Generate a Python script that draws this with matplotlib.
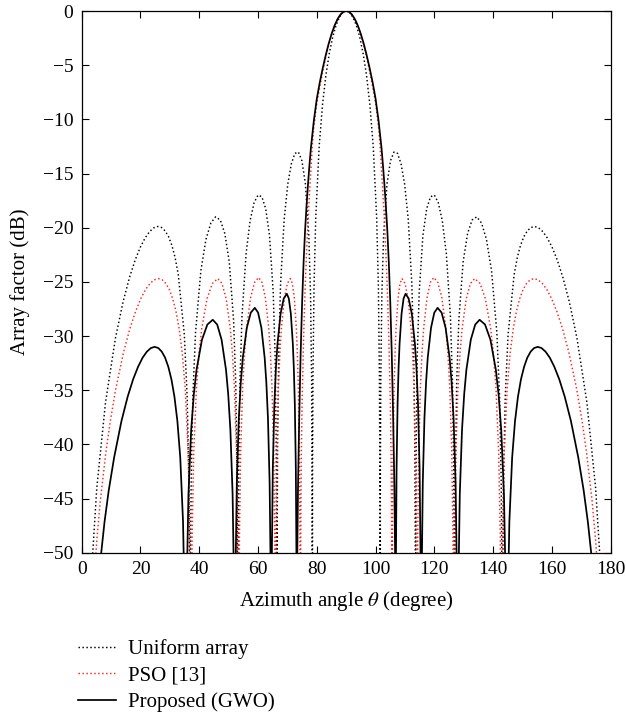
import matplotlib
matplotlib.use("Agg")
import matplotlib.pyplot as plt
from matplotlib.lines import Line2D

# ---------------- data ----------------
x_ticks = [0, 20, 40, 60, 80, 100, 120, 140, 160, 180]
y_ticks = [0, -5, -10, -15, -20, -25, -30, -35, -40, -45, -50]
series_labels = ["Uniform array", "PSO [13]", "Proposed (GWO)"]

theta_uniform = [
    0.000, 3.032, 5.127, 8.110, 11.478, 14.07, 16.260, 18.19, 19.948, 21.57, 23.074, 24.49,
    25.842, 27.13, 28.358, 29.54, 30.683, 31.79, 32.860,
    34.916, 35.904, 36.481, 36.734, 36.870, 36.997, 37.246, 37.812, 38.739, 40.536, 42.268, 43.945,
    45.573, 47.156, 48.700, 50.208, 51.683, 52.412, 52.843, 53.030, 53.130, 53.230, 53.416, 53.843,
    54.549, 55.944, 57.315, 58.667, 60.000, 61.315, 62.613, 63.896, 65.165, 65.795, 66.171, 66.334,
    66.422, 66.509, 66.671, 67.046, 67.667, 68.900, 70.123, 71.337, 72.542, 73.740, 74.930, 76.113,
    77.290, 77.878, 78.229, 78.381, 78.463, 78.545, 78.697, 79.048, 79.630, 80.793, 81.952, 83.108,
    84.261, 85.411, 86.560, 87.708, 88.854, 90.000,
    91.146, 92.292, 93.440, 94.589, 95.739, 96.892, 98.048, 99.207, 100.370, 100.952, 101.303,
    101.455, 101.537, 101.619, 101.771, 102.122, 102.710, 103.887, 105.070, 106.260, 107.458,
    108.663, 109.877, 111.100, 112.333, 112.954, 113.329, 113.491, 113.578, 113.666, 113.829,
    114.205, 114.835, 116.104, 117.387, 118.685, 120.000, 121.333, 122.685, 124.056, 125.451,
    126.157, 126.584, 126.770, 126.870, 126.970, 127.157, 127.588, 128.317, 129.792, 131.300,
    132.844, 134.427, 136.055, 137.732, 139.464, 141.261, 142.188, 142.754, 143.003, 143.130,
    143.266, 143.519, 144.096, 145.084, 147.140, 148.21, 149.317, 150.46, 151.642, 152.87,
    154.158, 155.51, 156.926, 158.43, 160.052, 161.81, 163.740, 165.93,
    168.522, 171.890, 174.873, 176.968, 180.000,
]
af_uniform = [
    -100, -53.15, -44.04, -36.11, -30.20, -26.85, -24.60, -22.98, -21.80, -20.95, -20.37, -20.02,
    -19.89, -19.98, -20.29, -20.82, -21.63, -22.77, -24.34,
    -29.85, -35.72, -43.62, -52.72, -100, -52.71, -43.59, -35.63, -29.67, -23.99, -21.09, -19.57,
    -19.00, -19.29, -20.54, -23.15, -28.55, -34.36, -42.24, -51.32, -100, -51.30, -42.16, -34.17,
    -28.15, -22.36, -19.34, -17.69, -16.99, -17.15, -18.25, -20.71, -25.95, -31.68, -39.50, -48.56,
    -100, -48.51, -39.35, -31.30, -25.20, -19.20, -15.98, -14.10, -13.14, -13.02, -13.82, -15.94,
    -20.80, -26.31, -34.00, -43.01, -100, -42.89, -33.67, -25.47, -19.11, -12.53, -8.62, -5.89,
    -3.89, -2.40, -1.31, -0.58, -0.14, 0.00,
    -0.14, -0.58, -1.31, -2.40, -3.89, -5.89, -8.62, -12.53, -19.11, -25.47, -33.67,
    -42.89, -100, -43.01, -34.00, -26.31, -20.80, -15.94, -13.82, -13.02, -13.14,
    -14.10, -15.98, -19.20, -25.20, -31.30, -39.35, -48.51, -100, -48.56, -39.50,
    -31.68, -25.95, -20.71, -18.25, -17.15, -16.99, -17.69, -19.34, -22.36, -28.15,
    -34.17, -42.16, -51.30, -100, -51.32, -42.24, -34.36, -28.55, -23.15, -20.54,
    -19.29, -19.00, -19.57, -21.09, -23.99, -29.67, -35.63, -43.59, -52.71, -100,
    -52.72, -43.62, -35.72, -29.85, -24.34, -22.77, -21.63, -20.82, -20.29, -19.98,
    -19.89, -20.02, -20.37, -20.95, -21.80, -22.98, -24.60, -26.85,
    -30.20, -36.11, -44.04, -53.15, -100,
]

theta_pso = [
    0.00, 3.65, 5.17, 6.33, 8.18, 9.69, 11.57, 14.19, 16.40, 18.36, 20.12, 21.75, 23.28, 24.72,
    26.07, 27.37, 28.61, 29.81, 30.95, 32.07, 33.15, 34.21, 35.23, 36.23, 36.81, 37.20,
    37.56, 38.11, 39.02, 39.93, 40.84, 42.66, 44.48, 46.30, 47.72, 49.14, 50.56, 51.27, 51.98,
    52.69, 53.12, 53.40,
    53.67, 54.08, 54.76, 55.44, 56.12, 57.48, 58.84, 60.20, 61.34, 62.48, 63.62, 64.19, 64.76,
    65.33, 65.67, 65.90,
    66.10, 66.41, 66.92, 67.43, 67.94, 68.96, 69.98, 71.00, 71.68, 72.36, 73.04, 73.38, 73.72,
    74.06, 74.26, 74.40,
    74.50, 74.70, 75.00, 75.50, 76.00, 76.50, 77.00, 77.50, 78.00, 78.50, 79.00, 80.00, 81.00,
    82.00, 83.00, 84.00, 85.00, 86.00, 87.00, 88.00, 89.00, 90.00,
    91.00, 92.00, 93.00, 94.00, 95.00, 96.00, 97.00, 98.00, 99.00, 100.00, 101.00, 101.50,
    102.00, 102.50, 103.00, 103.50, 104.00, 104.50, 105.00, 105.30, 105.50, 105.60,
    105.74, 105.94, 106.28, 106.62, 106.96, 107.64, 108.32, 109.00, 110.02, 111.04, 112.06,
    112.57, 113.08, 113.59, 113.90, 114.10,
    114.33, 114.67, 115.24, 115.81, 116.38, 117.52, 118.66, 119.80, 121.16, 122.52, 123.88,
    124.56, 125.24, 125.92, 126.33, 126.60,
    126.88, 127.31, 128.02, 128.73, 129.44, 130.86, 132.28, 133.70, 135.52, 137.34, 139.16,
    140.07, 140.98, 141.89, 142.44, 142.80,
    143.19, 143.77, 144.77, 145.79, 146.85, 147.93, 149.05, 150.19, 151.39, 152.63, 153.93,
    155.28, 156.72, 158.25, 159.88, 161.64, 163.60, 165.81, 168.43, 170.31, 171.82, 173.67,
    174.83, 176.35, 180.00,
]
af_pso = [
    -100, -54.76, -48.74, -45.23, -40.83, -37.93, -34.90, -31.56, -29.31, -27.71, -26.54, -25.70,
    -25.14, -24.81, -24.70, -24.81, -25.14, -25.70, -26.54, -27.71, -29.31, -31.56, -34.90, -40.83,
    -48.74, -100,
    -48.74, -40.83, -34.90, -31.56, -29.31, -26.54, -25.14, -24.70, -25.14, -26.54, -29.31,
    -31.56, -34.90, -40.83, -48.74, -100,
    -48.64, -40.73, -34.80, -31.46, -29.21, -26.44, -25.04, -24.60, -25.04, -26.44, -29.21,
    -31.46, -34.80, -40.73, -48.64, -100,
    -48.74, -40.83, -34.90, -31.56, -29.31, -26.54, -25.14, -24.70, -25.14, -26.54, -29.31,
    -31.56, -34.90, -40.83, -48.74, -100,
    -50.0, -41.5, -36.0, -30.2, -25.8, -22.3, -19.4, -16.9, -14.6, -12.3, -10.7, -8.5, -7.0,
    -5.6, -4.3, -3.18, -2.22, -1.42, -0.80, -0.35, -0.09, 0.0,
    -0.09, -0.35, -0.80, -1.42, -2.22, -3.18, -4.3, -5.6, -7.0, -8.5, -10.7, -12.3,
    -14.6, -16.9, -19.4, -22.3, -25.8, -30.2, -36.0, -41.5, -50.0, -100,
    -48.74, -40.83, -34.90, -31.56, -29.31, -26.54, -25.14, -24.70, -25.14, -26.54, -29.31,
    -31.56, -34.90, -40.83, -48.74, -100,
    -48.64, -40.73, -34.80, -31.46, -29.21, -26.44, -25.04, -24.60, -25.04, -26.44, -29.21,
    -31.46, -34.80, -40.73, -48.64, -100,
    -48.74, -40.83, -34.90, -31.56, -29.31, -26.54, -25.14, -24.70, -25.14, -26.54, -29.31,
    -31.56, -34.90, -40.83, -48.74, -100,
    -48.74, -40.83, -34.90, -31.56, -29.31, -27.71, -26.54, -25.70, -25.14, -24.81, -24.70,
    -24.81, -25.14, -25.70, -26.54, -27.71, -29.31, -31.56, -34.90, -37.93, -40.83, -45.23,
    -48.74, -54.76, -100,
]

theta_gwo = [
    0.00, 6.04, 7.78, 9.21, 11.04, 13.52, 15.63, 17.48, 19.18, 20.72, 22.18, 23.54, 24.83, 26.07,
    27.24, 28.38, 29.47, 30.54, 31.56, 32.56, 33.53, 34.48, 35.04, 35.40,
    35.77, 36.32, 37.24, 38.16, 39.08, 40.92, 42.76, 44.60, 46.10, 47.60, 49.10, 49.85, 50.60,
    51.35, 51.80, 52.10,
    52.37, 52.78, 53.46, 54.14, 54.82, 56.18, 57.54, 58.90, 60.02, 61.14, 62.26, 62.82, 63.38,
    63.94, 64.28, 64.50,
    64.71, 65.03, 65.56, 66.09, 66.62, 67.68, 68.74, 69.80, 70.48, 71.16, 71.84, 72.18, 72.52,
    72.86, 73.06, 73.20,
    73.35, 73.60, 74.00, 74.50, 75.00, 75.50, 76.00, 76.50, 77.00, 77.50, 78.00, 79.00, 80.00,
    81.00, 82.00, 83.00, 84.00, 85.00, 86.00, 87.00, 88.00, 89.00, 90.00,
    91.00, 92.00, 93.00, 94.00, 95.00, 96.00, 97.00, 98.00, 99.00, 100.00, 101.00, 102.00,
    102.50, 103.00, 103.50, 104.00, 104.50, 105.00, 105.50, 106.00, 106.40, 106.65, 106.80,
    106.94, 107.14, 107.48, 107.82, 108.16, 108.84, 109.52, 110.20, 111.26, 112.32, 113.38,
    113.91, 114.44, 114.97, 115.29, 115.50,
    115.72, 116.06, 116.62, 117.18, 117.74, 118.86, 119.98, 121.10, 122.46, 123.82, 125.18,
    125.86, 126.54, 127.22, 127.63, 127.90,
    128.20, 128.65, 129.40, 130.15, 130.90, 132.40, 133.90, 135.40, 137.24, 139.08, 140.92,
    141.84, 142.76, 143.68, 144.23, 144.60,
    144.96, 145.52, 146.47, 147.44, 148.44, 149.46, 150.53, 151.62, 152.76, 153.93, 155.17,
    156.46, 157.82, 159.28, 160.82, 162.52, 164.37, 166.48, 168.96, 170.79, 172.22, 173.96,
    180.00,
]
af_gwo = [
    -100, -51.53, -47.13, -44.23, -41.20, -37.86, -35.61, -34.01, -32.84, -32.00, -31.44, -31.11,
    -31.00, -31.11, -31.44, -32.00, -32.84, -34.01, -35.61, -37.86, -41.20, -47.13, -55.04, -100,
    -52.54, -44.63, -38.70, -35.36, -33.11, -30.34, -28.94, -28.50, -28.94, -30.34, -33.11,
    -35.36, -38.70, -44.63, -52.54, -100,
    -51.44, -43.53, -37.60, -34.26, -32.01, -29.24, -27.84, -27.40, -27.84, -29.24, -32.01,
    -34.26, -37.60, -43.53, -51.44, -100,
    -50.14, -42.23, -36.30, -32.96, -30.71, -27.94, -26.54, -26.10, -26.54, -27.94, -30.71,
    -32.96, -36.30, -42.23, -50.14, -100,
    -50.5, -44.0, -37.8, -31.6, -26.9, -23.2, -20.3, -18.0, -16.0, -14.2, -12.6, -10.1, -8.1,
    -6.6, -5.3, -4.12, -3.05, -2.14, -1.37, -0.77, -0.34, -0.08, 0.0,
    -0.08, -0.34, -0.77, -1.37, -2.14, -3.05, -4.12, -5.3, -6.6, -8.1, -10.1, -12.6,
    -14.2, -16.0, -18.0, -20.3, -23.2, -26.9, -31.6, -37.8, -44.0, -50.5, -100,
    -50.14, -42.23, -36.30, -32.96, -30.71, -27.94, -26.54, -26.10, -26.54, -27.94, -30.71,
    -32.96, -36.30, -42.23, -50.14, -100,
    -51.44, -43.53, -37.60, -34.26, -32.01, -29.24, -27.84, -27.40, -27.84, -29.24, -32.01,
    -34.26, -37.60, -43.53, -51.44, -100,
    -52.54, -44.63, -38.70, -35.36, -33.11, -30.34, -28.94, -28.50, -28.94, -30.34, -33.11,
    -35.36, -38.70, -44.63, -52.54, -100,
    -55.04, -47.13, -41.20, -37.86, -35.61, -34.01, -32.84, -32.00, -31.44, -31.11, -31.00,
    -31.11, -31.44, -32.00, -32.84, -34.01, -35.61, -37.86, -41.20, -44.23, -47.13, -51.53,
    -100,
]

# ---------------- figure ----------------
plt.rcParams["font.family"] = ["Liberation Serif", "DejaVu Serif"]
plt.rcParams["mathtext.fontset"] = "stix"

W, H = 626, 718
fig = plt.figure(figsize=(W / 100, H / 100), dpi=100)
ax = fig.add_axes([81.7 / W, 1 - 552.7 / H, (610.7 - 81.7) / W, (552.7 - 11) / H])

dot = (0, (1, 1.7))
ax.plot(theta_uniform, af_uniform, color="black", lw=1.05, ls=dot)
ax.plot(theta_pso, af_pso, color="#ff2020", lw=1.05, ls=dot)
ax.plot(theta_gwo, af_gwo, color="black", lw=1.25)

ax.set_xlim(0, 180)
ax.set_ylim(-50, 0)
ax.set_xticks(x_ticks)
ax.set_yticks(y_ticks)
ax.tick_params(direction="in", top=True, right=True, length=5, width=0.8,
               labelsize=14, pad=6)
for s in ax.spines.values():
    s.set_linewidth(0.9)

ax.set_xlabel(r"Azimuth angle $\theta$ (degree)", fontsize=15, labelpad=8)
ax.set_ylabel("Array factor (dB)", fontsize=15, labelpad=9)

handles = [
    Line2D([], [], color="black", lw=1.05, ls=dot),
    Line2D([], [], color="#ff2020", lw=1.05, ls=dot),
    Line2D([], [], color="black", lw=1.25),
]
fig.legend(handles, series_labels, loc="upper left",
           bbox_to_anchor=(78 / W, 1 - 639 / H), frameon=False,
           fontsize=15, handlelength=1.8, handletextpad=0.6,
           labelspacing=0.34, borderpad=0, borderaxespad=0)

fig.savefig("out.png", dpi=100)
